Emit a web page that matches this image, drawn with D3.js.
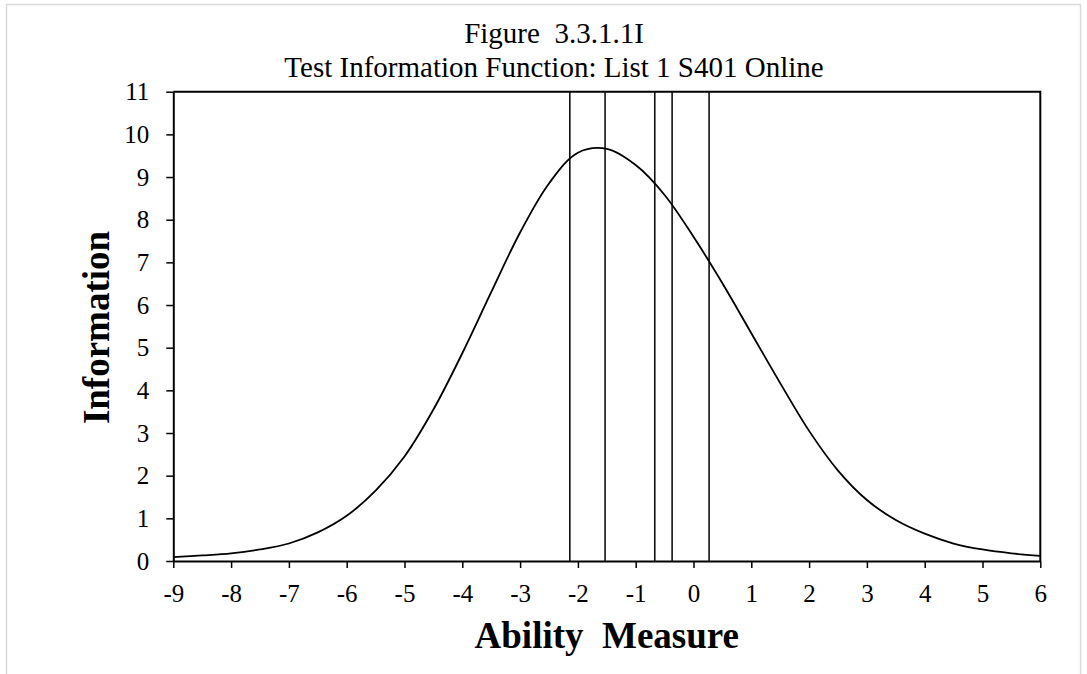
<!DOCTYPE html>
<html>
<head>
<meta charset="utf-8">
<script src="https://cdn.jsdelivr.net/npm/d3@7"></script>
<style>
  body { margin: 0; background: #fff; }
  svg { display: block; font-family: "Liberation Serif", "Times New Roman", serif; }
</style>
</head>
<body>
<div id="chart"></div>
<script>
////////// DATA //////////

// ability (theta) and test information
const theta = [-9, -8.5, -8, -7.5, -7, -6.5, -6, -5.5, -5, -4.5, -4, -3.5, -3, -2.5, -2, -1.5, -1, -0.5, 0, 0.5, 1, 1.5, 2, 2.5, 3, 3.5, 4, 4.5, 5, 5.5, 6];
const info = [0.09, 0.13, 0.18, 0.27, 0.41, 0.67, 1.06, 1.65, 2.45, 3.55, 4.87, 6.3, 7.7, 8.85, 9.57, 9.66, 9.28, 8.58, 7.60, 6.51, 5.34, 4.17, 3.05, 2.12, 1.43, 0.96, 0.64, 0.41, 0.27, 0.18, 0.12];

// vertical reference lines (cut scores)
const cuts = [-2.14, -1.53, -0.67, -0.37, 0.27];

const xTicks = d3.range(-9, 7, 1);
const yTicks = d3.range(0, 12, 1);

const titleLines = ["Figure  3.3.1.1I", "Test Information Function: List 1 S401 Online"];
const xLabel = "Ability  Measure";
const yLabel = "Information";


////////// SETUP //////////

const W = 1087, H = 674;

let svg = d3.select("#chart")
    .append("svg")
    .attr("width", W)
    .attr("height", H);

// light outer border
svg.append("rect")
    .attr("x", 6.5)
    .attr("y", 4.5)
    .attr("width", 1074)
    .attr("height", 720)
    .attr("fill", "none")
    .attr("stroke", "#d9d9d9")
    .attr("stroke-width", 1.5);

let x = d3.scaleLinear()
    .domain([-9, 6])
    .range([173.3, 1040.3]);

let y = d3.scaleLinear()
    .domain([0, 11])
    .range([561, 91.7]);


////////// AXES //////////

let xAxis = svg.append("g")
    .attr("transform", "translate(0," + y(0) + ")")
    .call(d3.axisBottom(x)
      .tickValues(xTicks)
      .tickSize(7)
      .tickSizeOuter(0)
      .tickPadding(16)
      .tickFormat(d3.format("d")));

let yAxis = svg.append("g")
    .attr("transform", "translate(" + x(-9) + ",0)")
    .call(d3.axisLeft(y)
      .tickValues(yTicks)
      .tickSize(7)
      .tickSizeOuter(0)
      .tickPadding(17)
      .tickFormat(d3.format("d")));

[xAxis, yAxis].forEach(g => {
  g.selectAll("path.domain").attr("stroke", "#000").attr("stroke-width", 2);
  g.selectAll(".tick line").attr("stroke", "#000").attr("stroke-width", 1.5);
  g.selectAll(".tick text")
    .attr("fill", "#000")
    .style("font-family", "'Liberation Serif', serif")
    .style("font-size", "25px");
});

// tick labels use a plain hyphen like the original
xAxis.selectAll(".tick text").text(d => String(d).replace("\u2212", "-"));

// top and right frame
svg.append("path")
    .attr("d", "M" + x(-9) + "," + y(11) + "H" + x(6) + "V" + y(0))
    .attr("fill", "none")
    .attr("stroke", "#000")
    .attr("stroke-width", 2);


////////// CUT LINES //////////

svg.append("g")
  .selectAll("line")
    .data(cuts)
    .enter()
    .append("line")
    .attr("x1", d => x(d))
    .attr("x2", d => x(d))
    .attr("y1", y(0))
    .attr("y2", y(11))
    .attr("stroke", "#111")
    .attr("stroke-width", 1.6);


////////// CURVE //////////

let points = theta.map((t, i) => [t, info[i]]);

let line = d3.line()
    .x(d => x(d[0]))
    .y(d => y(d[1]))
    .curve(d3.curveCatmullRom.alpha(0.5));

svg.append("path")
    .datum(points)
    .attr("d", line)
    .attr("fill", "none")
    .attr("stroke", "#000")
    .attr("stroke-width", 1.8);


////////// TEXT //////////

svg.append("g")
  .selectAll("text")
    .data(titleLines)
    .enter()
    .append("text")
    .attr("x", 554)
    .attr("y", (d, i) => 43.3 + i * 33.4)
    .attr("text-anchor", "middle")
    .style("font-size", "29px")
    .style("white-space", "pre")
    .text(d => d);

svg.append("text")
    .attr("x", (x(-9) + x(6)) / 2)
    .attr("y", 648)
    .attr("text-anchor", "middle")
    .style("font-size", "37px")
    .style("font-weight", "bold")
    .style("white-space", "pre")
    .text(xLabel);

svg.append("text")
    .attr("transform", "translate(109," + 327.5 + ") rotate(-90)")
    .attr("text-anchor", "middle")
    .style("font-size", "37px")
    .style("font-weight", "bold")
    .text(yLabel);
</script>
</body>
</html>
